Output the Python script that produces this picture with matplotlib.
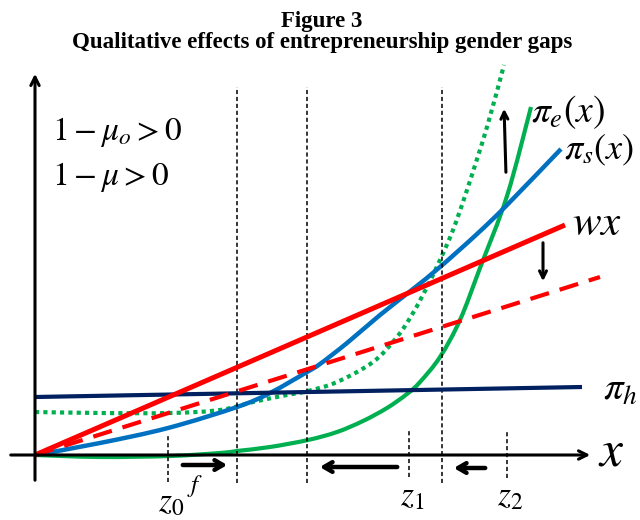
import matplotlib
matplotlib.use("Agg")
import matplotlib.pyplot as plt
from matplotlib.path import Path
from matplotlib.patches import PathPatch
import numpy as np

plt.rcParams['mathtext.fontset'] = 'stix'
plt.rcParams['lines.scale_dashes'] = False

# ---- data (schematic curves, origin at axis crossing) ----
pi_h_x = [0, 547]
pi_h_y = [58, 68]

wx_x = [0, 530]
wx_y = [0, 230]

wx_new_x = [0, 565]
wx_new_y = [0, 178]

pi_s_x = [0, 65, 133, 202, 235, 272, 285, 312, 345, 378, 405, 442, 472, 526]
pi_s_y = [0, 12, 27, 48, 62, 83, 91, 112, 140, 166, 188, 221, 250, 306]

pi_e_x = [0, 65, 135, 185, 202, 235, 273, 302, 328, 352, 372, 385, 405, 425, 445, 472, 496]
pi_e_y = [0, -2, -1, 2, 4, 8, 15, 23, 34, 47, 61, 73, 98, 135, 187, 259, 348]

pi_e_new_x = [0, 65, 135, 185, 218, 252, 273, 302, 338, 362, 378, 392, 405, 418, 432, 452, 469]
pi_e_new_y = [43, 42, 42, 45, 53, 60, 64, 73, 93, 118, 142, 168, 195, 225, 265, 328, 390]

vlines_long = [202, 272, 407]
z_marks = [133, 374, 472]
z_labels = ['$z_0$', '$z_1$', '$z_2$']

title_lines = ['Figure 3', 'Qualitative effects of entrepreneurship gender gaps']


def smooth_curve(ax, xs, ys, **kw):
    """Draw a smooth (Catmull-Rom as Bezier) curve through the read points."""
    P = np.column_stack([xs, ys]).astype(float)
    n = len(P)
    verts = [P[0]]
    codes = [Path.MOVETO]
    for i in range(n - 1):
        p0 = P[i - 1] if i > 0 else P[i]
        p1 = P[i]
        p2 = P[i + 1]
        p3 = P[i + 2] if i + 2 < n else P[i + 1]
        c1 = p1 + (p2 - p0) / 6.0
        c2 = p2 - (p3 - p1) / 6.0
        verts += [c1, c2, p2]
        codes += [Path.CURVE4] * 3
    ax.add_patch(PathPatch(Path(verts, codes), fill=False, **kw))


fig = plt.figure(figsize=(6.4, 5.2), dpi=100)
ax = fig.add_axes([0, 0, 1, 1])
ax.set_xlim(-35, 605)
ax.set_ylim(-65, 455)
ax.axis('off')

# title
fig.text(322/640, 1 - 27/520, title_lines[0], ha='center', va='baseline',
         family='Liberation Serif', weight='bold', fontsize=16.5)
fig.text(322/640, 1 - 48/520, title_lines[1], ha='center', va='baseline',
         family='Liberation Serif', weight='bold', fontsize=16.5)

# axes arrows
ax.annotate('', xy=(0, 384), xytext=(0, -28),
            arrowprops=dict(arrowstyle='->,head_length=0.6,head_width=0.3', lw=2.2, color='black'))
ax.annotate('', xy=(558, 0), xytext=(-27, 0),
            arrowprops=dict(arrowstyle='->,head_length=0.6,head_width=0.3', lw=2.2, color='black'))

# vertical dashed lines
for xv in vlines_long:
    ax.plot([xv, xv], [-28, 368], color='black', lw=1.1, dashes=(3, 2))
zy = [(20, -27), (25, -22), (24, -23)]
for xv, (y0, y1) in zip(z_marks, zy):
    ax.plot([xv, xv], [y1, y0], color='black', lw=1.1, dashes=(3, 2))

# curves
ax.plot(pi_h_x, pi_h_y, color='#002060', lw=3.0, solid_capstyle='butt')
ax.plot(wx_new_x, wx_new_y, color='#ff0000', lw=3.0, dashes=(14, 8), dash_capstyle='butt')
ax.plot(wx_x, wx_y, color='#ff0000', lw=3.6, solid_capstyle='butt')
smooth_curve(ax, pi_e_new_x, pi_e_new_y, edgecolor='#00b050', lw=3.0,
             linestyle=(0, (3, 3)), capstyle='butt')
smooth_curve(ax, pi_e_x, pi_e_y, edgecolor='#00b050', lw=3.0, capstyle='butt')
smooth_curve(ax, pi_s_x, pi_s_y, edgecolor='#0070c0', lw=3.2, capstyle='butt')

# movement arrows
arw = dict(arrowstyle='->,head_length=0.6,head_width=0.35', lw=3.2, color='black')
ax.annotate('', xy=(195, -10), xytext=(145, -10), arrowprops=arw)
ax.annotate('', xy=(282, -12), xytext=(365, -12), arrowprops=arw)
ax.annotate('', xy=(416, -13), xytext=(453, -13), arrowprops=arw)
small = dict(arrowstyle='->,head_length=0.5,head_width=0.25', lw=2.2, color='black')
ax.annotate('', xy=(469, 349), xytext=(471, 280), arrowprops=small)
ax.annotate('', xy=(508, 171), xytext=(508, 215), arrowprops=small)

# labels
ax.text(17, 323, r'$1-\mu_o>0$', fontsize=24, ha='left', va='center')
ax.text(17, 278, r'$1-\mu>0$', fontsize=24, ha='left', va='center')
ax.text(496, 343, r'$\pi_e(x)$', fontsize=27, ha='left', va='center')
ax.text(529, 305, r'$\pi_s(x)$', fontsize=26, ha='left', va='center')
ax.text(537, 232, r'$wx$', fontsize=31, ha='left', va='center')
ax.text(568, 66, r'$\pi_h$', fontsize=28, ha='left', va='center')
ax.text(563, 3, r'$x$', fontsize=37, ha='left', va='center')
ax.text(160, -31, r'$f$', fontsize=18, ha='center', va='center')
zbase = [-56, -51, -51]
for xv, lab, yb in zip(z_marks, z_labels, zbase):
    ax.text(xv + 3, yb, lab, fontsize=24, ha='center', va='baseline')

fig.savefig('out.png', dpi=100)
